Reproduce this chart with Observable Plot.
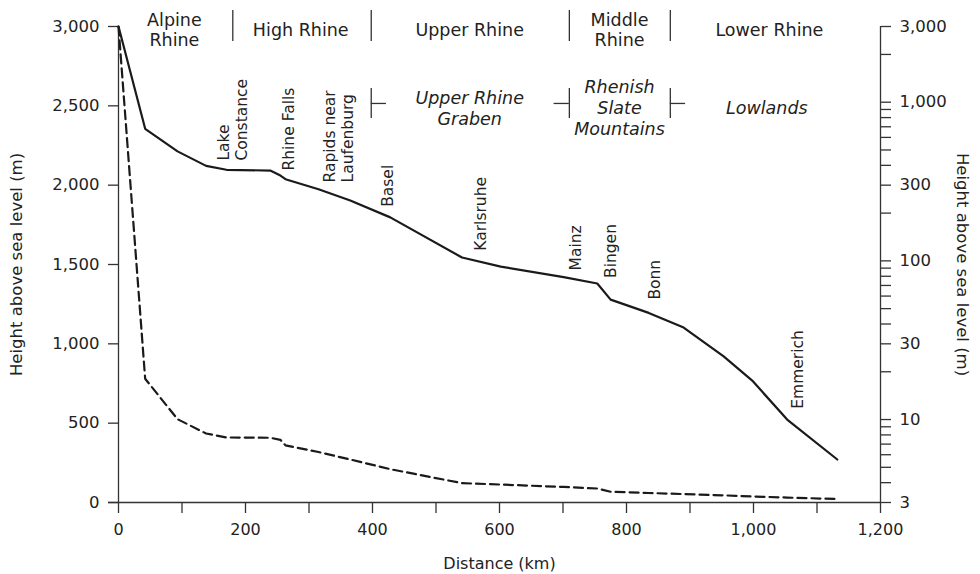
<!DOCTYPE html>
<html>
<head>
<meta charset="utf-8">
<script src="https://cdn.jsdelivr.net/npm/d3@7"></script>
<script src="https://cdn.jsdelivr.net/npm/@observablehq/plot@0.6"></script>
<style>
  body { margin: 0; background: #fff; }
  #chart { position: relative; width: 980px; height: 574px; }
  #chart svg { position: absolute; left: 0; top: 0; }
</style>
</head>
<body>
<div id="chart"></div>
<script>
// ---- data ----
const distanceKm   = [0, 42, 93, 138, 170, 239, 255, 263, 315, 365, 428, 541, 602, 701, 754, 775, 835, 890, 953, 998, 1053, 1132];
const heightLinear = [3000, 780, 525, 435, 410, 408, 395, 360, 318, 271, 210, 122, 113, 98, 88, 68, 60, 53, 45, 38, 31, 22];   // dashed, left axis
const heightLog    = [3000, 680, 490, 397, 375, 371, 345, 327, 283, 240, 188, 105, 92, 79, 72, 57, 47, 38, 25, 17.6, 10, 5.6]; // solid, right (log) axis

const sectionNames    = ["Alpine\nRhine", "High Rhine", "Upper Rhine", "Middle\nRhine", "Lower Rhine"];
const sectionCenterKm = [88, 287, 553, 789, 1025];
const sectionBoundKm  = [180, 398, 710, 869];

const landformNames    = ["Upper Rhine\nGraben", "Rhenish\nSlate\nMountains", "Lowlands"];
const landformCenterKm = [553, 789, 1021];
const landformBoundKm  = [398, 710, 869];
const landformBoundDir = [1, -1, 1];

const placeNames  = ["Lake\nConstance", "Rhine Falls", "Rapids near\nLaufenburg", "Basel", "Karlsruhe", "Mainz", "Bingen", "Bonn", "Emmerich"];
const placeKm     = [179, 268, 346, 424, 570, 720, 775, 844, 1069];
const placeHeight = [429, 371, 312, 219, 116, 87, 78, 57, 11.7];

const xTicks       = [0, 100, 200, 300, 400, 500, 600, 700, 800, 900, 1000, 1100, 1200];
const xTickLabels  = [0, 200, 400, 600, 800, 1000, 1200];
const yLeftTicks   = [0, 500, 1000, 1500, 2000, 2500, 3000];
const yRightTicks  = [3, 4, 5, 6, 7, 8, 9, 10, 20, 30, 40, 50, 60, 70, 80, 90, 100, 200, 300, 400, 500, 600, 700, 800, 900, 1000, 2000, 3000];
const yRightLabels = [3, 5, 10, 30, 50, 100, 300, 500, 1000, 3000];

// ---- layout ----
const FONT = '"DejaVu Sans", sans-serif';
const INK = "#222";
const AXIS = "#333";
const frame = {
  width: 980, height: 574,
  marginLeft: 118, marginRight: 100, marginTop: 26, marginBottom: 72
};
const fmt = d3.format(",");
const profile = distanceKm.map((km, i) => ({km, lin: heightLinear[i], log: heightLog[i]}));
const sections = sectionNames.map((name, i) => ({name, km: sectionCenterKm[i]}));
const landforms = landformNames.map((name, i) => ({name, km: landformCenterKm[i]}));
const landBounds = landformBoundKm.map((km, i) => ({km, dir: landformBoundDir[i]}));
const places = placeNames.map((name, i) => ({name, km: placeKm[i], h: placeHeight[i]}));
const landformRowY = 2515; // row of the landform labels, in left-axis units

const linear = Plot.plot({
  ...frame,
  style: {fontFamily: FONT, fontSize: "16.5px", color: INK, background: "transparent", overflow: "visible"},
  x: {domain: [0, 1200], axis: null},
  y: {domain: [0, 3000], axis: null},
  marks: [
    Plot.ruleX([0, 1200], {stroke: AXIS, strokeWidth: 1.3}),
    Plot.ruleY([0], {stroke: AXIS, strokeWidth: 1.3, insetLeft: -10}),
    Plot.axisX(xTicks, {
      anchor: "bottom", tickSize: 11, tickPadding: 10, stroke: AXIS, strokeWidth: 1.3,
      tickFormat: d => xTickLabels.includes(d) ? fmt(d) : "",
      label: "Distance (km)", labelAnchor: "center", labelOffset: 66, labelArrow: "none", fontSize: 16
    }),
    Plot.axisY(yLeftTicks, {
      anchor: "left", tickSize: 10, tickPadding: 9, stroke: AXIS, strokeWidth: 1.3,
      tickFormat: d => fmt(d),
      label: "Height above sea level (m)", labelAnchor: "center", labelOffset: 108, labelArrow: "none"
    }),
    Plot.line(profile, {x: "km", y: "lin", stroke: "#1a1a1a", strokeWidth: 2.2, strokeDasharray: "9,5"}),
    // section row
    Plot.ruleX(sectionBoundKm, {stroke: AXIS, strokeWidth: 1.3, insetTop: -16, insetBottom: 461}),
    Plot.text(sections, {x: "km", frameAnchor: "top", lineAnchor: "middle", dy: 3, text: "name", fontSize: 17.5, lineHeight: 1.15, fill: INK}),
    // landform row
    Plot.ruleX(landformBoundKm, {stroke: AXIS, strokeWidth: 1.3, insetTop: 62, insetBottom: 384}),
    Plot.ruleY(landBounds, {x1: "km", x2: d => d.km + d.dir * 24, y: () => landformRowY, stroke: AXIS, strokeWidth: 1.3}),
    Plot.text(landforms, {x: "km", frameAnchor: "top", lineAnchor: "middle", dy: 81, text: "name", fontSize: 17.5, fontStyle: "italic", lineHeight: 1.2, fill: INK})
  ]
});

const logPlot = Plot.plot({
  ...frame,
  style: {fontFamily: FONT, fontSize: "16.5px", color: INK, background: "transparent", overflow: "visible"},
  x: {domain: [0, 1200], axis: null},
  y: {type: "log", domain: [3, 3000], axis: null},
  marks: [
    Plot.axisY(yRightTicks, {
      anchor: "right", tickSize: 10, tickPadding: 9, stroke: AXIS, strokeWidth: 1.3,
      tickFormat: d => yRightLabels.includes(d) ? fmt(d) : "",
      label: null
    }),
    Plot.text(["Height above sea level (m)"], {frameAnchor: "right", textAnchor: "middle", lineAnchor: "middle", dx: 82, rotate: 90, text: d => d, fontSize: 16.5, fill: INK}),
    Plot.line(profile, {x: "km", y: "log", stroke: "#1a1a1a", strokeWidth: 2.2}),
    Plot.text(places, {x: "km", y: "h", text: "name", rotate: -90, textAnchor: "start", fontSize: 15.5, lineHeight: 1.15, fill: INK})
  ]
});

const el = document.getElementById("chart");
el.append(linear, logPlot);
</script>
</body>
</html>
